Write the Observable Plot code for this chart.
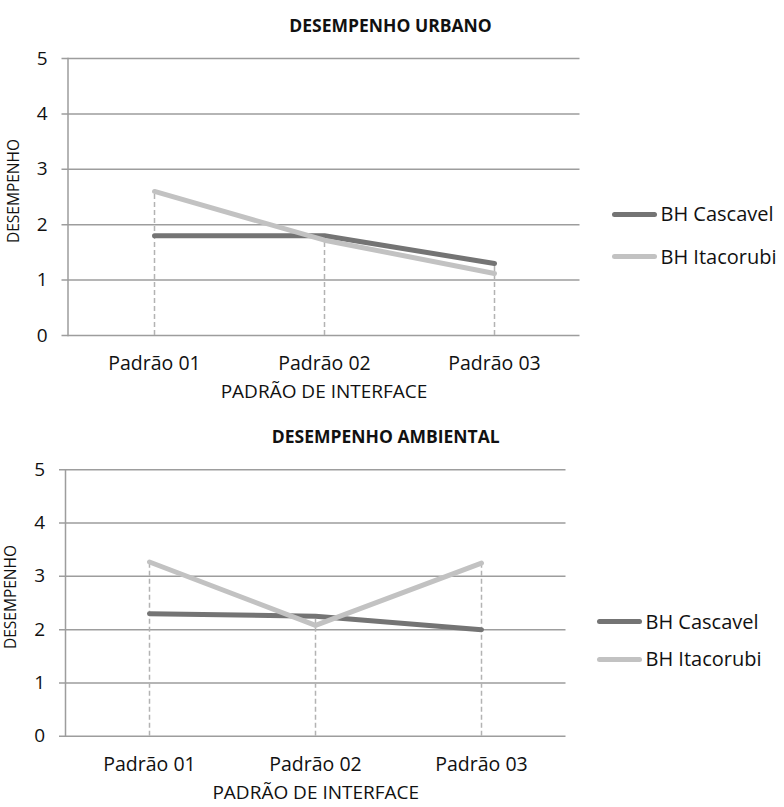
<!DOCTYPE html>
<html>
<head>
<meta charset="utf-8">
<script src="https://cdn.jsdelivr.net/npm/d3@7"></script>
<script src="https://cdn.jsdelivr.net/npm/@observablehq/plot@0.6"></script>
<style>
  body { margin: 0; background: #fff; font-family: "Open Sans", Lato, sans-serif; }
  .panel { position: relative; width: 784px; }
  .panel svg { display: block; }
  .legend { position: absolute; font-size: 20px; color: #111; white-space: nowrap; }
  .legend .item { position: absolute; display: flex; align-items: center; height: 28px; line-height: 28px; transform: translateY(-50%); }
  .legend .swatch { width: 45px; height: 5px; border-radius: 2.5px; margin-right: 4px; }
</style>
</head>
<body>
<div id="charts"></div>
<script>
// Categories and tick values shared by both panels
const categories = ["Padrão 01", "Padrão 02", "Padrão 03"];
const yTicks = [0, 1, 2, 3, 4, 5];
const seriesNames = ["BH Cascavel", "BH Itacorubi"];
const seriesColors = ["#747474", "#c2c2c2"];

// Urban performance per interface pattern
const urbanoCascavel = [1.8, 1.8, 1.3];
const urbanoItacorubi = [2.6, 1.72, 1.12];

// Environmental performance per interface pattern
const ambientalCascavel = [2.3, 2.25, 2.0];
const ambientalItacorubi = [3.27, 2.08, 3.25];

const yTitle = "DESEMPENHO";
const xTitle = "PADRÃO DE INTERFACE";

const gridColor = "#9d9d9d";
const dropColor = "#b3b3b3";
const fontStack = "'Open Sans', Lato, sans-serif";

function panel({title, cascavel, itacorubi, height, margin, titleDx, titleDy, yTitleDy, xTitleDy, legend}) {
  const rows = [];
  categories.forEach((c, i) => {
    rows.push({cat: c, serie: seriesNames[0], value: cascavel[i]});
    rows.push({cat: c, serie: seriesNames[1], value: itacorubi[i]});
  });
  const drops = categories.map((c, i) => ({cat: c, top: Math.max(cascavel[i], itacorubi[i])}));

  const chart = Plot.plot({
    width: 784,
    height,
    marginTop: margin.top,
    marginRight: margin.right,
    marginBottom: margin.bottom,
    marginLeft: margin.left,
    style: {fontFamily: fontStack, fontSize: "19.5px", color: "#111", background: "#fff", overflow: "visible"},
    x: {type: "point", domain: categories, padding: 0.5, label: null},
    y: {domain: [0, 5], label: null},
    color: {domain: seriesNames, range: seriesColors},
    marks: [
      // horizontal gridlines, extended to the left as tick marks
      Plot.ruleY(yTicks, {stroke: gridColor, strokeWidth: 1.5, insetLeft: -6}),
      // vertical axis line
      Plot.frame({anchor: "left", stroke: gridColor, strokeWidth: 1.5}),
      Plot.axisY({ticks: yTicks, tickFormat: (d) => String(d), tickSize: 0, tickPadding: 20.5, fontSize: 19, label: null}),
      Plot.axisX({tickSize: 0, tickPadding: 21, fontSize: 19.5, label: null}),
      // drop lines from each category's highest point to the axis
      Plot.ruleX(drops, {x: "cat", y1: 0, y2: "top", stroke: dropColor, strokeWidth: 1.5, strokeDasharray: "5,3"}),
      Plot.line(rows, {x: "cat", y: "value", z: "serie", stroke: "serie", strokeWidth: 5, strokeLinecap: "round", strokeLinejoin: "round"}),
      Plot.text([title], {frameAnchor: "top", dx: titleDx, dy: titleDy, fontWeight: "bold", fontSize: 17.5, fill: "#111"}),
      Plot.text([yTitle], {frameAnchor: "left", textAnchor: "middle", rotate: -90, dx: -54, dy: yTitleDy, fontSize: 15.5, fill: "#111"}),
      Plot.text([xTitle], {frameAnchor: "bottom", dy: xTitleDy, fontSize: 19, fill: "#111"})
    ]
  });

  const wrap = document.createElement("div");
  wrap.className = "panel";
  wrap.style.height = height + "px";
  wrap.appendChild(chart);

  const leg = document.createElement("div");
  leg.className = "legend";
  leg.style.left = legend.x + "px";
  leg.style.top = "0px";
  seriesNames.forEach((name, i) => {
    const item = document.createElement("div");
    item.className = "item";
    item.style.top = legend.y[i] + "px";
    const sw = document.createElement("div");
    sw.className = "swatch";
    sw.style.background = seriesColors[i];
    const label = document.createElement("span");
    label.textContent = name;
    item.appendChild(sw);
    item.appendChild(label);
    leg.appendChild(item);
  });
  wrap.appendChild(leg);
  return wrap;
}

const root = document.getElementById("charts");
root.appendChild(panel({
  title: "DESEMPENHO URBANO",
  cascavel: urbanoCascavel,
  itacorubi: urbanoItacorubi,
  height: 412,
  margin: {top: 58, right: 204.5, bottom: 77, left: 67.5},
  titleDx: 66.5,
  titleDy: -39,
  yTitleDy: -6,
  xTitleDy: 62,
  legend: {x: 611.5, y: [214, 256.5]}
}));
root.appendChild(panel({
  title: "DESEMPENHO AMBIENTAL",
  cascavel: ambientalCascavel,
  itacorubi: ambientalItacorubi,
  height: 395,
  margin: {top: 57.3, right: 218.5, bottom: 71.3, left: 65},
  titleDx: 70,
  titleDy: -39,
  yTitleDy: -6,
  xTitleDy: 63,
  legend: {x: 596.5, y: [209.7, 247]}
}));
</script>
</body>
</html>
